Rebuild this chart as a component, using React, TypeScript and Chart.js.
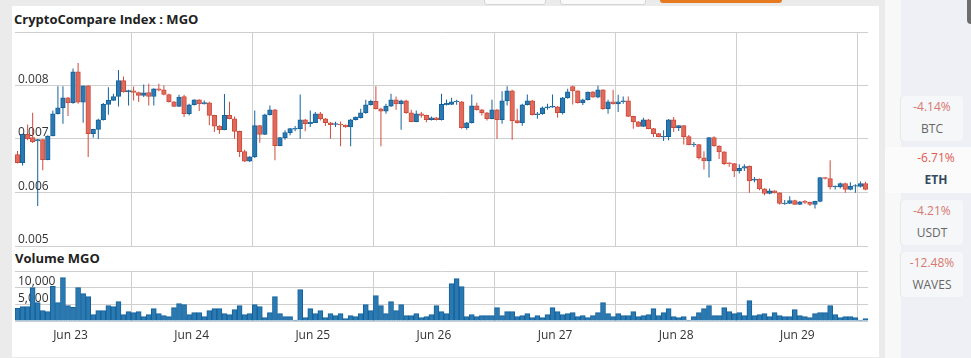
import React, { useEffect, useRef } from "react";
import { Chart, registerables } from "chart.js";

Chart.register(...registerables);

// ---------- data ----------
const dayLabels = ["Jun 23", "Jun 24", "Jun 25", "Jun 26", "Jun 27", "Jun 28", "Jun 29"];

const openPrices = [
  0.006708, 0.006559, 0.007087, 0.007025, 0.006963, 0.006988, 0.006615, 0.007056, 0.007472, 0.007584,
  0.00777, 0.007677, 0.008255, 0.00769, 0.007994, 0.0071, 0.00718, 0.00736, 0.007646, 0.007721,
  0.007795, 0.008093, 0.007882, 0.007901, 0.00787, 0.007814, 0.00787, 0.007795, 0.007938, 0.007919,
  0.007832, 0.007696, 0.007609, 0.007795, 0.007472, 0.00764, 0.007733, 0.007658, 0.007677, 0.007441,
  0.007242, 0.007174, 0.007441, 0.007379, 0.007143, 0.006764, 0.006584, 0.006665, 0.007249, 0.007087,
  0.007454, 0.007547, 0.006876, 0.007025, 0.007118, 0.007186, 0.007193, 0.00736, 0.007286, 0.007304,
  0.007472, 0.007379, 0.007304, 0.007273, 0.007273, 0.007261, 0.007224, 0.00736, 0.007398, 0.007491,
  0.00764, 0.007702, 0.007565, 0.007522, 0.007615, 0.007733, 0.007658, 0.007714, 0.007491, 0.007323,
  0.007472, 0.007441, 0.00736, 0.007398, 0.00736, 0.00764, 0.007646, 0.007696, 0.007696, 0.007211,
  0.007304, 0.007621, 0.007547, 0.007491, 0.007379, 0.007547, 0.00736, 0.007714, 0.007901, 0.007342,
  0.007304, 0.00764, 0.007714, 0.007454, 0.007472, 0.007584, 0.007596, 0.007603, 0.007491, 0.00777,
  0.007981, 0.007901, 0.007677, 0.007733, 0.007882, 0.007783, 0.007919, 0.007565, 0.007696, 0.007658,
  0.007696, 0.007714, 0.007422, 0.007323, 0.007236, 0.00736, 0.007193, 0.0071, 0.007037, 0.007044,
  0.00736, 0.007211, 0.007249, 0.007044, 0.006895, 0.006895, 0.006646, 0.00659, 0.007025, 0.00687,
  0.006758, 0.006553, 0.006541, 0.006404, 0.006454, 0.006491, 0.00623, 0.006249, 0.006069, 0.005982,
  0.006031, 0.005994, 0.005789, 0.005796, 0.005851, 0.005777, 0.005833, 0.005814, 0.005777, 0.005833,
  0.00628, 0.006261, 0.006106, 0.006106, 0.006168, 0.006056, 0.006118, 0.006112, 0.006168,
];

const highPrices = [
  0.006777, 0.0071, 0.007273, 0.007491, 0.007, 0.007, 0.007068, 0.007534, 0.007988, 0.007988,
  0.007783, 0.008317, 0.008422, 0.007994, 0.008006, 0.007193, 0.007379, 0.007671, 0.007969, 0.007845,
  0.008292, 0.008168, 0.007919, 0.007981, 0.007882, 0.008019, 0.008031, 0.00795, 0.008031, 0.008,
  0.007845, 0.007708, 0.007826, 0.007826, 0.007658, 0.007745, 0.007745, 0.007721, 0.007696, 0.007454,
  0.007255, 0.007839, 0.007696, 0.007422, 0.007155, 0.006801, 0.006677, 0.007534, 0.007261, 0.007472,
  0.007627, 0.007559, 0.007037, 0.007162, 0.007205, 0.007242, 0.007832, 0.007373, 0.007534, 0.007503,
  0.007503, 0.007391, 0.007317, 0.007323, 0.007329, 0.007273, 0.007373, 0.007422, 0.007565, 0.007733,
  0.007733, 0.007988, 0.007584, 0.007658, 0.007845, 0.007795, 0.007733, 0.007733, 0.007547, 0.007534,
  0.007503, 0.007454, 0.007422, 0.00741, 0.007845, 0.007739, 0.00777, 0.007733, 0.007708, 0.007317,
  0.007832, 0.007677, 0.007559, 0.007503, 0.007733, 0.007559, 0.007894, 0.007988, 0.007919, 0.007565,
  0.007658, 0.007832, 0.007727, 0.007503, 0.007609, 0.007658, 0.007832, 0.007615, 0.007783, 0.007938,
  0.007994, 0.007913, 0.007752, 0.007888, 0.007894, 0.007994, 0.007932, 0.007733, 0.007919, 0.007826,
  0.007795, 0.007795, 0.007435, 0.007335, 0.007398, 0.007373, 0.007205, 0.007112, 0.007162, 0.007373,
  0.00741, 0.007261, 0.007261, 0.007075, 0.006944, 0.006907, 0.00677, 0.007037, 0.00705, 0.006882,
  0.00677, 0.006565, 0.006553, 0.006528, 0.006528, 0.006503, 0.006292, 0.006261, 0.006081, 0.006075,
  0.006044, 0.006007, 0.005858, 0.005932, 0.005864, 0.005839, 0.005858, 0.005827, 0.005845, 0.006292,
  0.006292, 0.006603, 0.006131, 0.006187, 0.00618, 0.006193, 0.006156, 0.006205, 0.006199,
];

const lowPrices = [
  0.006541, 0.006503, 0.006975, 0.006926, 0.005746, 0.006416, 0.006603, 0.00705, 0.00746, 0.007286,
  0.007429, 0.007658, 0.007658, 0.007304, 0.006665, 0.007025, 0.007, 0.007348, 0.007454, 0.007708,
  0.007609, 0.00787, 0.007627, 0.007721, 0.00769, 0.007783, 0.007627, 0.007627, 0.007894, 0.00782,
  0.007683, 0.007596, 0.007596, 0.00741, 0.007441, 0.007627, 0.007522, 0.007646, 0.007255, 0.007131,
  0.0071, 0.007162, 0.007367, 0.007006, 0.006665, 0.006572, 0.006572, 0.006646, 0.006932, 0.007075,
  0.007441, 0.006603, 0.006864, 0.006988, 0.007068, 0.007143, 0.007006, 0.007143, 0.007224, 0.007298,
  0.007348, 0.007242, 0.007006, 0.007224, 0.006864, 0.007211, 0.006864, 0.007348, 0.007385, 0.007472,
  0.007627, 0.007553, 0.006864, 0.007472, 0.007596, 0.007547, 0.007174, 0.007472, 0.007311, 0.007311,
  0.007398, 0.007311, 0.007348, 0.007348, 0.007348, 0.007627, 0.007634, 0.00764, 0.007193, 0.007174,
  0.007292, 0.007534, 0.007441, 0.007348, 0.007367, 0.007006, 0.007286, 0.007627, 0.006988, 0.007292,
  0.007249, 0.007627, 0.007441, 0.007379, 0.007454, 0.007547, 0.007584, 0.007398, 0.00746, 0.007752,
  0.007646, 0.007665, 0.007634, 0.007721, 0.00777, 0.007764, 0.007547, 0.007472, 0.007646, 0.007503,
  0.007658, 0.00741, 0.007193, 0.007224, 0.007224, 0.00718, 0.007037, 0.007031, 0.006963, 0.006975,
  0.007131, 0.007149, 0.006895, 0.006882, 0.006851, 0.006615, 0.006429, 0.00628, 0.006857, 0.006627,
  0.006516, 0.006479, 0.006292, 0.006354, 0.006404, 0.005994, 0.006193, 0.006044, 0.00595, 0.005969,
  0.005982, 0.005771, 0.005771, 0.005783, 0.005765, 0.005765, 0.005783, 0.005746, 0.005702, 0.00582,
  0.006243, 0.006056, 0.006056, 0.006075, 0.005994, 0.006044, 0.005994, 0.006094, 0.006044,
];

const closePrices = [
  0.006559, 0.007087, 0.007, 0.00695, 0.006988, 0.006615, 0.007056, 0.007472, 0.007584, 0.00777,
  0.007677, 0.008255, 0.00769, 0.007994, 0.0071, 0.00718, 0.00736, 0.007646, 0.007721, 0.007795,
  0.008093, 0.007882, 0.007907, 0.00787, 0.007814, 0.007863, 0.007795, 0.007938, 0.007913, 0.007832,
  0.007696, 0.007609, 0.007783, 0.007472, 0.00764, 0.007733, 0.007658, 0.007683, 0.007441, 0.007242,
  0.007174, 0.007441, 0.007379, 0.007143, 0.006764, 0.006584, 0.006665, 0.007249, 0.007087, 0.007454,
  0.007547, 0.006876, 0.007025, 0.007118, 0.007193, 0.007199, 0.00736, 0.007286, 0.007311, 0.007472,
  0.007379, 0.007304, 0.007267, 0.007286, 0.007261, 0.007224, 0.00736, 0.00741, 0.007491, 0.00764,
  0.007702, 0.007565, 0.007522, 0.007615, 0.007733, 0.007658, 0.007714, 0.007491, 0.007323, 0.007472,
  0.007441, 0.00736, 0.007398, 0.00736, 0.007646, 0.007665, 0.007696, 0.007708, 0.007211, 0.007304,
  0.007621, 0.007547, 0.007491, 0.007379, 0.007547, 0.00736, 0.007714, 0.007901, 0.007342, 0.007304,
  0.00764, 0.007714, 0.007454, 0.007472, 0.007584, 0.007603, 0.007609, 0.007491, 0.00777, 0.007882,
  0.007901, 0.007677, 0.007733, 0.007876, 0.007783, 0.007919, 0.007565, 0.007696, 0.007658, 0.007696,
  0.007714, 0.007422, 0.007323, 0.007236, 0.00736, 0.007193, 0.0071, 0.007044, 0.00705, 0.00736,
  0.007211, 0.007249, 0.007044, 0.006895, 0.006907, 0.006646, 0.00659, 0.007025, 0.00687, 0.006758,
  0.006541, 0.006541, 0.006404, 0.006454, 0.006485, 0.006218, 0.006249, 0.006069, 0.005982, 0.006031,
  0.005994, 0.005796, 0.005802, 0.005851, 0.005777, 0.005827, 0.005814, 0.005777, 0.005833, 0.00628,
  0.006261, 0.006106, 0.006118, 0.006168, 0.006056, 0.006118, 0.006131, 0.006168, 0.006056,
];

const volumes = [
  3800, 4300, 4300, 10000, 5500, 3100, 2800, 10400, 5500, 13000,
  4600, 4100, 10000, 8200, 7300, 1900, 3100, 3100, 4600, 4300,
  5800, 1900, 2800, 2500, 2800, 1300, 1900, 3700, 2200, 1600,
  1300, 4000, 5200, 4900, 1900, 2500, 2500, 1300, 3100, 3700,
  3700, 2200, 1900, 3400, 4600, 1900, 2200, 4900, 4300, 1000,
  2500, 7300, 2200, 1300, 1300, 300, 9400, 1000, 3700, 2200,
  3100, 1000, 2200, 1600, 2200, 700, 1600, 1300, 2200, 4900,
  3100, 7600, 4600, 2200, 5800, 3100, 4900, 1600, 1600, 2200,
  1000, 1300, 1900, 4600, 2800, 2200, 11200, 12700, 10300, 1300,
  1900, 1300, 1600, 1600, 1600, 4000, 1600, 2800, 2800, 1300,
  1600, 2200, 1000, 1600, 1000, 1900, 4000, 2800, 1900, 2200,
  2500, 1300, 1600, 1000, 1600, 2500, 5500, 2200, 1300, 2200,
  1600, 1600, 2800, 1300, 1600, 1900, 3700, 1600, 2500, 3700,
  1300, 1000, 1300, 300, 1300, 2500, 3700, 4600, 1600, 1600,
  4000, 2800, 2200, 2500, 1600, 6100, 1600, 1900, 2200, 1300,
  2500, 1600, 1300, 1300, 3400, 1600, 1300, 1000, 2200, 2500,
  2500, 4600, 1900, 1000, 1300, 1300, 1000, 300, 700,
];

const priceTicks = [0.005, 0.006, 0.007, 0.008, 0.009];
const volumeTicks = [0, 5000, 10000, 15000];

const sidebarChanges = ["-4.14%", "-6.71%", "-4.21%", "-12.48%"];
const sidebarSymbols = ["BTC", "ETH", "USDT", "WAVES"];
const selectedSymbol = "ETH";

// ---------- style ----------
const FONT = "'Open Sans', 'Noto Sans', sans-serif";
const BLUE_FILL = "#2a79b0";
const BLUE_LINE = "#14629c";
const RED_FILL = "#e06b5c";
const RED_LINE = "#d04a3a";
const GRID = "#cfcfcf";
const TICK_COLOR = "#333333";

const N = openPrices.length;
const FIRST_LABEL_POS = 10.5; // position of the first day label on the candle index axis
const HOURS_PER_DAY = 24;
const dayTickValues = dayLabels.map((_, k) => FIRST_LABEL_POS + k * HOURS_PER_DAY);

function zeroPadding(s: any) {
  s.paddingTop = 0;
  s.paddingBottom = 0;
  s.paddingLeft = 0;
  s.paddingRight = 0;
}

function makeXScale(showLabels: boolean) {
  return {
    type: "linear" as const,
    min: -0.5,
    max: N - 0.5,
    offset: false,
    afterBuildTicks: (s: any) => {
      s.ticks = dayTickValues.map((v) => ({ value: v }));
    },
    afterFit: (s: any) => {
      s.height = showLabels ? 29 : 0;
      zeroPadding(s);
    },
    ticks: {
      display: showLabels,
      autoSkip: false,
      maxRotation: 0,
      padding: 7,
      color: TICK_COLOR,
      font: { family: FONT, size: 12 },
      callback: (_v: any, i: number) => dayLabels[i] ?? "",
    },
    grid: { offset: true, color: GRID, drawTicks: false, lineWidth: 1 },
    border: { display: false },
  };
}

function makeYScale(
  min: number,
  max: number,
  values: number[],
  fmt: (v: number) => string,
  part: "both" | "grid" | "labels" = "both"
) {
  return {
    type: "linear" as const,
    position: "left" as const,
    min,
    max,
    z: part === "labels" ? 1 : 0,
    afterBuildTicks: (s: any) => {
      s.ticks = values.map((v) => ({ value: v }));
    },
    afterFit: (s: any) => {
      s.width = 0;
      zeroPadding(s);
    },
    ticks: {
      display: part !== "grid",
      mirror: true,
      autoSkip: false,
      padding: 3,
      labelOffset: -6,
      color: TICK_COLOR,
      font: { family: FONT, size: 12 },
      callback: (v: any, i: number) => (i === values.length - 1 ? "" : fmt(Number(v))),
    },
    grid: { display: part !== "labels", color: GRID, drawTicks: false, lineWidth: 1 },
    border: { display: false },
  };
}

function PriceChart() {
  const ref = useRef<HTMLCanvasElement | null>(null);
  useEffect(() => {
    if (!ref.current) return;
    const up = openPrices.map((o, i) => closePrices[i] >= o);
    const chart = new Chart(ref.current, {
      type: "bar",
      data: {
        datasets: [
          {
            label: "body",
            data: openPrices.map((o, i) => ({ x: i, y: [o, closePrices[i]] })) as any,
            backgroundColor: up.map((u) => (u ? BLUE_FILL : RED_FILL)),
            borderColor: up.map((u) => (u ? BLUE_LINE : RED_LINE)),
            borderWidth: 1,
            borderSkipped: false,
            barThickness: 4.6,
            grouped: false,
            order: 0,
          } as any,
          {
            label: "wick",
            data: lowPrices.map((l, i) => ({ x: i, y: [l, highPrices[i]] })) as any,
            backgroundColor: up.map((u) => (u ? BLUE_LINE : RED_LINE)),
            borderWidth: 0,
            barThickness: 1,
            inflateAmount: 0,
            grouped: false,
            order: 1,
          } as any,
        ],
      },
      options: {
        animation: false,
        responsive: false,
        maintainAspectRatio: false,
        devicePixelRatio: 1,
        layout: { padding: { top: 1, bottom: 1, left: 0, right: 0 } },
        plugins: { legend: { display: false }, tooltip: { enabled: false } },
        scales: {
          x: makeXScale(false),
          y: makeYScale(0.005, 0.009, priceTicks, (v) => v.toFixed(3)),
        } as any,
      },
    });
    return () => chart.destroy();
  }, []);
  return (
    <canvas
      ref={ref}
      width={853}
      height={216}
      style={{ position: "absolute", left: 15, top: 31, width: 853, height: 216 }}
    />
  );
}

function VolumeChart() {
  const ref = useRef<HTMLCanvasElement | null>(null);
  useEffect(() => {
    if (!ref.current) return;
    const fmt = (v: number) => v.toLocaleString("en-US");
    const chart = new Chart(ref.current, {
      type: "bar",
      data: {
        datasets: [
          {
            label: "Volume MGO",
            data: volumes.map((v, i) => ({ x: i, y: v })) as any,
            backgroundColor: BLUE_FILL,
            borderColor: BLUE_LINE,
            borderWidth: { top: 1, left: 1, right: 1, bottom: 0 },
            borderSkipped: "start",
            barThickness: 5,
            grouped: false,
            yAxisID: "y",
          } as any,
        ],
      },
      options: {
        animation: false,
        responsive: false,
        maintainAspectRatio: false,
        devicePixelRatio: 1,
        layout: { padding: { top: 1, bottom: 0, left: 0, right: 0 } },
        plugins: { legend: { display: false }, tooltip: { enabled: false } },
        scales: {
          x: makeXScale(true),
          y: makeYScale(0, 15000, volumeTicks, fmt, "grid"),
          yLabels: makeYScale(0, 15000, volumeTicks, fmt, "labels"),
        } as any,
      },
    });
    return () => chart.destroy();
  }, []);
  return (
    <canvas
      ref={ref}
      width={853}
      height={80}
      style={{ position: "absolute", left: 15, top: 270, width: 853, height: 80 }}
    />
  );
}

function Sidebar() {
  const cardTops = [96, 147, 200, 252];
  return (
    <>
      {sidebarSymbols.map((sym, i) => {
        const sel = sym === selectedSymbol;
        const top = cardTops[i];
        const left = sel ? 885 : 901;
        const width = sel ? 86 : 62;
        const textW = sel ? 70 : 62;
        return (
          <div key={sym}>
            <div
              style={{
                position: "absolute",
                left,
                top,
                width,
                height: sel ? 46 : 45,
                background: sel ? "#fbfbfb" : "#f6f7f9",
                borderRadius: sel ? 0 : 3,
                boxShadow: sel ? "none" : "-1px 0 1px rgba(0,0,0,0.07)",
              }}
            />
            <div
              style={{
                position: "absolute",
                left: 901,
                top: top + 5,
                width: textW,
                textAlign: "center",
                font: `400 12px/12px ${FONT}`,
                color: sel ? "#e0574b" : "#d6786f",
                whiteSpace: "nowrap",
              }}
            >
              {sidebarChanges[i]}
            </div>
            <div
              style={{
                position: "absolute",
                left: 901,
                top: top + 27,
                width: textW,
                textAlign: "center",
                font: `${sel ? 700 : 400} 12px/12px ${FONT}`,
                color: sel ? "#34495e" : "#666666",
                whiteSpace: "nowrap",
              }}
            >
              {sym}
            </div>
          </div>
        );
      })}
    </>
  );
}

export default function App() {
  return (
    <div
      style={{
        position: "fixed",
        left: 0,
        top: 0,
        width: 971,
        height: 358,
        overflow: "hidden",
        background: "#ebebeb",
        fontFamily: FONT,
      }}
    >
      {/* top buttons (edges) */}
      <div style={{ position: "absolute", left: 484, top: -6, width: 60, height: 9, background: "#fafafa", border: "1px solid #d5d5d5", borderRadius: 3 }} />
      <div style={{ position: "absolute", left: 560, top: -6, width: 84, height: 9, background: "#fafafa", border: "1px solid #d5d5d5", borderRadius: 3 }} />
      <div style={{ position: "absolute", left: 660, top: -6, width: 122, height: 9, background: "#e57a1e", borderRadius: 3 }} />
      {/* card */}
      <div style={{ position: "absolute", left: 12, top: 6, width: 867, height: 351, background: "#ffffff" }} />
      {/* right panels */}
      <div style={{ position: "absolute", left: 885, top: 0, width: 16, height: 358, background: "#f8f8f8" }} />
      <div style={{ position: "absolute", left: 901, top: 0, width: 70, height: 358, background: "#eef0f5" }} />
      <div style={{ position: "absolute", left: 967, top: -4, width: 8, height: 28, background: "#6e6e6e", borderRadius: 4 }} />
      <Sidebar />
      {/* titles */}
      <div style={{ position: "absolute", left: 14, top: 13, font: `700 13px/13px ${FONT}`, color: "#222", whiteSpace: "nowrap" }}>
        CryptoCompare Index : MGO
      </div>
      <div style={{ position: "absolute", left: 15, top: 252, font: `700 13px/13px ${FONT}`, color: "#222", whiteSpace: "nowrap" }}>
        Volume MGO
      </div>
      <PriceChart />
      <VolumeChart />
    </div>
  );
}
